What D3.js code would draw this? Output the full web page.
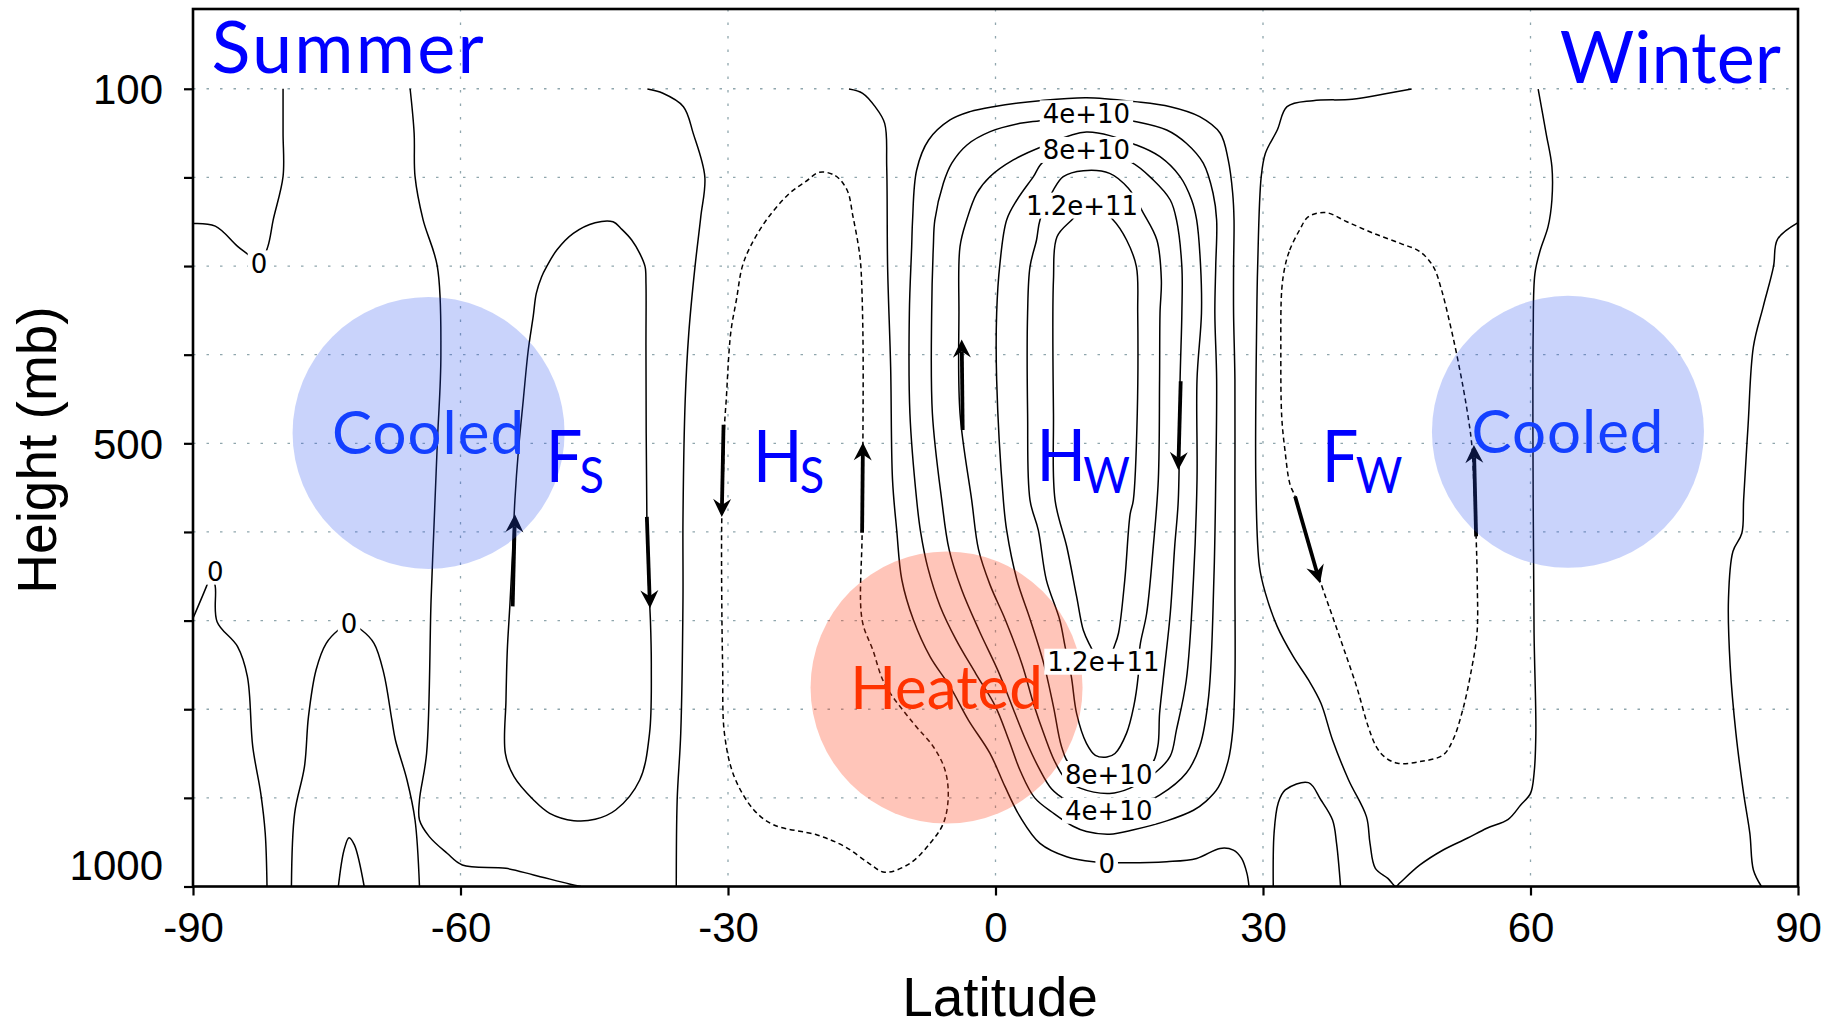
<!DOCTYPE html>
<html><head><meta charset="utf-8">
<script src="https://cdn.jsdelivr.net/npm/d3@7"></script>
<style>body{margin:0;background:#fff}svg{display:block}</style>
</head><body>
<svg id="chart" width="1834" height="1027"></svg>
<script>
// ---------------- axis data ----------------
const latTicks = [-90, -60, -30, 0, 30, 60, 90];
const latTickLabels = ["-90", "-60", "-30", "0", "30", "60", "90"];
const pTicks = [100, 200, 300, 400, 500, 600, 700, 800, 900, 1000];
const pTickLabels = ["100", "", "", "", "500", "", "", "", "", "1000"];
const gridLat = [-60, -30, 0, 30, 60];
const gridP = [100, 200, 300, 400, 500, 600, 700, 800, 900];

// ---------------- contour lines [lat, pressure] ----------------
const cTopLeft = [[-90,252],[-87.5,255],[-85.0,277.8],[-83.5,289.8],[-82.6,300],[-81.6,277.8],[-81.0,247.7],[-79.9,198.9],[-79.9,150],[-79.9,100]];
const cPolarSummer = [[-65.65,100],[-65.2,150],[-65.1,198.9],[-64.2,247.7],[-62.6,300.4],[-62.2,400.4],[-62.6,500],[-63.0,600],[-63.3,676.7],[-63.8,849.7],[-64.6,902.4],[-64.6,925],[-63.5,943.7],[-61.5,962.5],[-59.8,975.7],[-54.9,979.5],[-51.8,987],[-47.8,997.1],[-46.5,1000]];
const cLeftLow = [[-90,697.4],[-88.5,661.7],[-87.9,646],[-87.5,661.7],[-87.3,701.2],[-85.0,729.4],[-83.9,763.2],[-83.3,842.2],[-82.4,894.9],[-81.9,940],[-81.7,1000]];
const cDome = [[-78.96,1000],[-78.6,917.4],[-77.5,864.8],[-77.05,808.3],[-76.2,755.7],[-75.06,725.6],[-73.7,710.6],[-72.5,703],[-71.1,710.6],[-69.7,725.6],[-68.6,759.5],[-67.7,812.1],[-67.3,834.7],[-66.0,879.8],[-65.1,925],[-64.6,1000]];
const cSpike = [[-73.7,1000],[-73.06,958.8],[-72.5,944.9],[-71.9,953.1],[-70.8,1000]];
const cFerrelS = [[-54.75,733.2],[-54.45,680.6],[-54.15,620.4],[-53.9,564],[-53.5,507.6],[-52.96,451.2],[-52.4,394.7],[-51.85,357.1],[-51.5,330.8],[-50.9,312],[-50.34,300.7],[-49.2,281.9],[-47.35,263.1],[-44.9,251.1],[-42.9,250],[-41.9,258.6],[-40.8,270.6],[-39.9,285.7],[-39.3,300.7],[-39.2,319.5],[-39.2,394.7],[-39.1,582.8],[-38.9,658],[-38.7,700],[-38.6,751.9],[-38.8,827.2],[-39.9,879.8],[-42.6,913.7],[-44.9,924.2],[-47.3,925.7],[-50.0,917.4],[-51.8,902.4],[-54.0,876.1],[-54.97,849.7],[-54.9,790]];
const cMidS = [[-39.04,100.3],[-37.3,105.1],[-35.0,120.2],[-33.9,150.3],[-32.6,199.2],[-33.05,244.3],[-33.7,300.7],[-34.4,375.9],[-34.8,451.2],[-35.05,586.5],[-35.05,676.7],[-35.3,827.2],[-35.7,902.4],[-35.8,1000]];
const cHadleyS = [[-19.75,194.3],[-17.97,198],[-16.65,214.2],[-15.98,244.3],[-15.3,281.9],[-15.1,300.7],[-14.87,375.9],[-14.87,500],[-14.96,601.5],[-14.96,699.3],[-13.76,733.1],[-12.4,772],[-9.2,815.9],[-6.97,842.3],[-5.66,868.6],[-5.3,898.7],[-5.85,928.8],[-7.34,951.3],[-9.6,973.9],[-12.4,984],[-14.2,973.8],[-16.9,955],[-20.0,941.9],[-24.85,930.6],[-27.1,913.6],[-29.3,876.1],[-30.4,827.2],[-30.6,751.9],[-30.7,676.7],[-30.7,586.5],[-30.5,526],[-30.4,481.2],[-30.2,451.1],[-29.7,375.9],[-29.06,338.3],[-28.4,300.7],[-27.5,278.2],[-25.7,248.1],[-23.1,218],[-21.3,204.8]];
const cZeroEq = [[-16.43,100.3],[-14.9,105.1],[-13.5,120.2],[-12.43,139],[-12.2,187.9],[-12.1,300.7],[-11.76,413.5],[-11.55,541],[-11.08,597.8],[-10.5,654.2],[-9.2,699.4],[-7.34,740.7],[-5.1,774.6],[-3.04,812.2],[-0.62,849.8],[1.07,887.4],[2.75,921.2],[4.99,951.3],[7.98,966.4],[10.98,972],[13.97,973.1],[19.2,972],[22.56,968.3],[25.18,957],[26.68,958.9],[27.6,968.3],[28.2,985.2],[28.43,1000]];
const cW2e10 = [[10.2,110],[15.65,114.5],[19.6,120.2],[22.9,131.4],[25.2,150.2],[26.1,180.3],[26.6,217.9],[26.75,248],[26.7,300.7],[26.7,353],[26.85,428],[26.85,541],[26.85,654],[26.85,767],[26.6,825],[26.1,858],[25.0,888],[23.6,904],[22.2,914],[19.2,926],[15.5,936],[12.8,941],[10.2,938],[8.7,932],[6.6,918],[4.4,900],[2.8,870],[1.5,835],[0.0,797],[-2.2,760],[-4.4,722],[-6.2,684],[-7.6,640],[-8.4,600],[-8.84,564],[-9.6,466],[-9.66,353],[-9.4,278],[-9.3,248],[-8.84,191.6],[-7.5,157.8],[-5.1,135.2],[-2.86,125.8],[-0.24,120.2],[4.99,113.4]];
const cW4e10 = [[10.2,129.5],[15.8,137.1],[19.2,146.5],[21.4,161.5],[23.3,184],[24.4,217.9],[24.8,248],[24.7,300],[24.6,353],[24.8,428],[24.7,541],[24.5,650],[23.9,786],[22.9,842],[21.4,872],[18.4,897],[15.5,910],[12.8,914],[10.2,912],[8.0,903],[6.3,890],[4.8,865],[3.4,835],[2.0,800],[0.3,757],[-1.8,712],[-3.8,665],[-5.2,620],[-6.03,564],[-7.08,466],[-7.16,353],[-6.97,278],[-6.8,248],[-5.85,206.7],[-4.9,184],[-3.2,163.4],[-0.6,148.4],[2.75,139],[4.99,136]];
const cW6e10 = [[10.2,148.7],[15.8,163.4],[18.45,176.6],[20.7,199.1],[22.0,225.5],[22.56,248],[23.0,300],[23.1,353],[22.6,428],[22.6,541],[22.2,654],[21.4,767],[20.3,823],[19.6,853],[18.1,870],[15.1,889],[12.8,895],[9.5,889],[7.8,878],[6.6,858],[5.5,830],[4.3,795],[3.0,750],[1.1,699],[-0.6,660],[-1.9,620],[-2.67,564],[-3.98,466],[-4.1,353],[-3.98,278],[-3.23,248],[-2.1,218],[-0.6,199],[2.0,180.3],[5.4,164.5]];
const cW8e10 = [[10.2,169],[15.1,182.2],[17.7,202.9],[19.6,225.5],[20.3,248],[20.9,300.7],[20.9,353],[20.7,428.6],[20.5,564],[20.1,616],[19.6,692],[18.8,767],[18.4,805],[18.2,842],[17.5,862],[15.2,870],[12.8,873],[10.5,871],[8.3,862],[7.4,842],[6.5,797],[5.4,748],[3.9,699],[2.4,654],[1.25,598],[0.88,564],[0.13,428.6],[0.13,353],[0.5,297],[1.25,248],[2.4,225.5],[4.25,199.1],[5.4,182.2]];
const cW1e11 = [[9.85,192.4],[12.8,195.4],[14.9,212.3],[16.6,240.5],[18.1,270.6],[18.6,315.7],[18.45,353],[18.4,428],[18.26,541],[17.7,616],[16.95,692],[16.2,729],[16.0,763],[15.5,797],[14.7,827],[13.4,850],[12.5,854],[11.2,852],[10.2,838.5],[9.1,805],[8.5,763],[7.8,729],[7.2,699],[5.7,654],[4.8,598],[3.87,564],[3.6,466],[3.6,353],[3.87,300.7],[4.6,270.6],[4.99,248],[6.5,214.2],[7.6,199.1]];
const cW12e10 = [[10.6,229],[13.2,248],[14.7,270.6],[15.8,300.7],[15.95,353],[15.9,466],[15.46,564],[15.1,580],[14.5,654],[13.8,714],[13.4,727],[12.7,742],[12.0,746],[11.4,742],[10.6,728],[9.85,711],[9.1,673],[8.0,617],[6.68,564],[6.5,466],[6.5,315.7],[6.9,266.9],[8.55,248]];
const cZeroW = [[46.67,100.3],[43.57,105.9],[40.0,111.9],[35.6,113.4],[32.7,120.2],[31.6,146.5],[30.27,172.8],[29.8,199.2],[29.4,300.7],[29.3,357],[29.2,545],[29.6,639],[30.27,669],[31.6,706.8],[33.4,740.7],[35.1,767],[36.5,793.3],[37.8,834.7],[39.6,879.8],[41.6,921.2],[42.0,951.3],[42.6,979.5],[44.0,990.8],[44.9,1000],[45.3,996.4],[47.6,975.7],[50.2,958.8],[52.9,945.6],[55.1,934.3],[57.5,924.2],[58.9,908],[60.0,894.9],[60.4,872.3],[60.6,827.2],[60.4,714.3],[60.3,564],[60.3,375.9],[60.5,308.2],[61.1,281.9],[61.97,255.6],[62.4,225.5],[62.4,187.9],[61.75,150.3],[60.86,100.3]];
const cBump = [[31.15,1000],[31.24,940],[31.7,906],[32.5,891],[35.1,882.8],[36.5,902.4],[37.8,925],[38.25,951.3],[38.7,1000]];
const cFerrelW = [[32.46,300.7],[33.0,281.9],[34.1,259.4],[35.1,244.3],[37.1,239.8],[39.4,250],[42.4,263.1],[45.4,274.4],[47.6,283.8],[49.1,300.7],[50.03,327.1],[50.96,364.7],[51.7,398.5],[52.5,439.9],[53.0,470],[53.4,500],[53.65,545.2],[53.9,605.4],[54.03,658],[54.0,714.3],[53.3,759.5],[52.4,800.8],[51.3,834.7],[50.2,851.6],[47.6,859.1],[45.1,861],[43.6,853.5],[42.7,842.2],[41.8,819.6],[40.5,774.5],[39.1,733.1],[37.8,695.5],[36.5,658],[34.9,605.4],[33.6,560.2],[33.0,545.2],[32.46,507.6],[32.1,470],[32.0,394.7],[32.1,327.1]];
const cPolarW = [[90,251],[87.7,269.9],[87.25,300.7],[86.1,345.8],[85.0,391],[84.4,480],[83.9,564],[83.7,601.5],[82.7,622],[82.2,676.7],[82.4,751.9],[83.04,827.2],[83.9,894.9],[84.6,940],[85.0,981.3],[85.9,1000]];

const contourLevels = [0, 0, 0, 0, 0, 2e10, 0, -2e10, 0, 2e10, 4e10, 6e10, 8e10, 1e11, 1.2e11, 0, 0, -2e10, 0];
const contourLines = [cTopLeft, cPolarSummer, cLeftLow, cDome, cSpike, cFerrelS, cMidS, cHadleyS, cZeroEq, cW2e10, cW4e10, cW6e10, cW8e10, cW1e11, cW12e10, cZeroW, cBump, cFerrelW, cPolarW];
const contourClosed = [false, false, false, false, false, true, false, true, false, true, true, true, true, true, true, false, false, true, false];

// contour labels: text, lat, pressure
const contourLabelText = ["4e+10", "8e+10", "1.2e+11", "1.2e+11", "8e+10", "4e+10", "0", "0", "0", "0"];
const contourLabelLat  = [10.2, 10.2, 9.7, 12.1, 12.7, 12.7, 12.47, -82.6, -87.5, -72.5];
const contourLabelP    = [127.7, 169, 231.8, 746.4, 873.1, 914.5, 973.9, 297, 644.8, 703];

// circulation arrows: [lat0, p0, lat1(tip), p1(tip)]
const arrows = [
  [-54.15, 684, -53.9, 580],
  [-39.1, 583, -38.75, 686],
  [-30.5, 479, -30.7, 583],
  [-14.96, 601, -14.87, 499],
  [-3.68, 485, -3.79, 383],
  [20.77, 430, 20.5, 530],
  [33.6, 560, 36.4, 658],
  [53.9, 605, 53.65, 502]
];

// heating / cooling regions: lat, pressure (centres)
const regionName = ["Cooled", "Cooled", "Heated"];
const regionLat = [-63.58, 64.2, -5.49];
const regionP = [488.3, 487, 775.5];

// cell labels
const cellMain = ["F", "H", "H", "F"];
const cellSub = ["S", "S", "W", "W"];
const cellLat = [-50.45, -27.2, 4.6, 36.6];
const cellP = [543.3, 543.3, 542.5, 543.3];

// ---------------- drawing ----------------
const svg = d3.select("#chart");
const x = d3.scaleLinear().domain([-90, 90]).range([193, 1798]);
const y = d3.scaleLinear().domain([10, 1000]).range([9, 886.5]);

svg.append("defs").append("clipPath").attr("id", "plotclip")
  .append("rect").attr("x", x(-90)).attr("y", y(10)).attr("width", x(90) - x(-90)).attr("height", y(1000) - y(10));

// grid
const grid = svg.append("g").attr("stroke", "#8fa6ad").attr("stroke-width", 1.3).attr("stroke-dasharray", "2.5,11");
grid.selectAll("line.h").data(gridP).join("line")
  .attr("x1", x(-90)).attr("x2", x(90)).attr("y1", d => y(d)).attr("y2", d => y(d));
grid.selectAll("line.v").data(gridLat).join("line")
  .attr("y1", y(10)).attr("y2", y(1000)).attr("x1", d => x(d)).attr("x2", d => x(d));

// contours
const cg = svg.append("g").attr("clip-path", "url(#plotclip)").attr("fill", "none").attr("stroke", "#000").attr("stroke-width", 1.5).attr("stroke-linejoin", "round");
const lineOpen = d3.line().x(d => x(d[0])).y(d => y(d[1])).curve(d3.curveCatmullRom.alpha(0.5));
const lineClosed = d3.line().x(d => x(d[0])).y(d => y(d[1])).curve(d3.curveCatmullRomClosed.alpha(0.5));
contourLines.forEach((pts, i) => {
  cg.append("path")
    .attr("d", contourClosed[i] ? lineClosed(pts) : lineOpen(pts))
    .attr("stroke-dasharray", contourLevels[i] < 0 ? "5,3.5" : null);
});

// arrows
const ag = svg.append("g");
arrows.forEach(a => {
  const x0 = x(a[0]), y0 = y(a[1]), x1 = x(a[2]), y1 = y(a[3]);
  const dx = x1 - x0, dy = y1 - y0, L = Math.hypot(dx, dy);
  const ux = dx / L, uy = dy / L, nx = -uy, ny = ux;
  const hl = 18, hw = 9, notch = 6;
  const bx = x1 - ux * hl, by = y1 - uy * hl;
  const mx = x1 - ux * (hl - notch), my = y1 - uy * (hl - notch);
  ag.append("line").attr("x1", x0).attr("y1", y0).attr("x2", mx).attr("y2", my)
    .attr("stroke", "#000").attr("stroke-width", 3.8);
  ag.append("path").attr("d", `M${x1},${y1}L${bx + nx * hw},${by + ny * hw}L${mx},${my}L${bx - nx * hw},${by - ny * hw}Z`)
    .attr("fill", "#000");
});

// heating/cooling circles
const regionFill = ["rgb(40,80,240)", "rgb(40,80,240)", "rgb(255,62,22)"];
const regionOpacity = [0.25, 0.25, 0.3];
regionName.forEach((n, i) => {
  svg.append("circle").attr("cx", x(regionLat[i])).attr("cy", y(regionP[i])).attr("r", 136)
    .attr("fill", regionFill[i]).attr("fill-opacity", regionOpacity[i]);
});
regionName.forEach((n, i) => {
  svg.append("text").attr("x", x(regionLat[i])).attr("y", y(regionP[i]) + 21)
    .attr("text-anchor", "middle").attr("font-family", "Lato, 'Open Sans', sans-serif")
    .attr("font-size", 60).attr("letter-spacing", n === "Heated" ? 0 : 1)
    .attr("fill", n === "Heated" ? "#ff3300" : "#1440ff").text(n);
});

// contour labels
const lg = svg.append("g");
contourLabelText.forEach((t, i) => {
  const g = lg.append("g").attr("transform", `translate(${x(contourLabelLat[i])},${y(contourLabelP[i])})`);
  const txt = g.append("text").attr("text-anchor", "middle").attr("dy", 9.5)
    .attr("font-family", "'DejaVu Sans', sans-serif").attr("font-size", 26).attr("fill", "#000").text(t);
  const w = txt.node().getComputedTextLength();
  g.insert("rect", "text").attr("x", -w / 2 - 3).attr("y", -13).attr("width", w + 6).attr("height", 26).attr("fill", "#fff");
});

// cell labels (main letter + subscript, slightly condensed)
cellMain.forEach((m, i) => {
  const g = svg.append("g").attr("transform", `translate(${x(cellLat[i])},${y(cellP[i])}) scale(0.9,1)`);
  const t = g.append("text").attr("font-family", "Lato, 'Open Sans', sans-serif").attr("fill", "#0000ff");
  t.append("tspan").attr("font-size", 72).text(m);
  t.append("tspan").attr("font-size", 50).attr("dx", -3).attr("dy", 11.5).text(cellSub[i]);
});

// season labels
svg.append("text").attr("x", x(-87.93)).attr("y", y(82.5)).attr("font-family", "Lato, sans-serif")
  .attr("font-size", 72).attr("letter-spacing", 2.2).attr("fill", "#0000ff").text("Summer");
svg.append("text").attr("x", x(88.09)).attr("y", y(93.8)).attr("text-anchor", "end").attr("font-family", "Lato, sans-serif")
  .attr("font-size", 72).attr("fill", "#0000ff").text("Winter");

// axes
const xAxis = d3.axisBottom(x).tickValues(latTicks).tickFormat((d, i) => latTickLabels[i]).tickSize(9).tickSizeOuter(0);
const gx = svg.append("g").attr("transform", `translate(0,${y(1000)})`).call(xAxis);
gx.select(".domain").remove();
gx.selectAll(".tick line").attr("stroke", "#000").attr("stroke-width", 2.2);
gx.selectAll(".tick text").attr("font-family", "'Liberation Sans', Arial, sans-serif").attr("font-size", 42)
  .attr("fill", "#000").attr("y", 55.5).attr("dy", null);

const yAxis = d3.axisLeft(y).tickValues(pTicks).tickFormat((d, i) => pTickLabels[i]).tickSize(9).tickSizeOuter(0);
const gy = svg.append("g").attr("transform", `translate(${x(-90)},0)`).call(yAxis);
gy.select(".domain").remove();
gy.selectAll(".tick line").attr("stroke", "#000").attr("stroke-width", 2.2);
gy.selectAll(".tick text").attr("font-family", "'Liberation Sans', Arial, sans-serif").attr("font-size", 42)
  .attr("fill", "#000").attr("x", -30).attr("dy", d => d === 1000 ? -7.5 : 15);

// frame
svg.append("rect").attr("x", x(-90)).attr("y", y(10)).attr("width", x(90) - x(-90)).attr("height", y(1000) - y(10))
  .attr("fill", "none").attr("stroke", "#000").attr("stroke-width", 2.6);

// titles
svg.append("text").attr("x", 1000).attr("y", 1016).attr("text-anchor", "middle")
  .attr("font-family", "'Liberation Sans', Arial, sans-serif").attr("font-size", 55).attr("fill", "#000").text("Latitude");
svg.append("text").attr("transform", "translate(55.5,450) rotate(-90)").attr("text-anchor", "middle")
  .attr("font-family", "'Liberation Sans', Arial, sans-serif").attr("font-size", 55).attr("fill", "#000").text("Height (mb)");
</script>
</body></html>
